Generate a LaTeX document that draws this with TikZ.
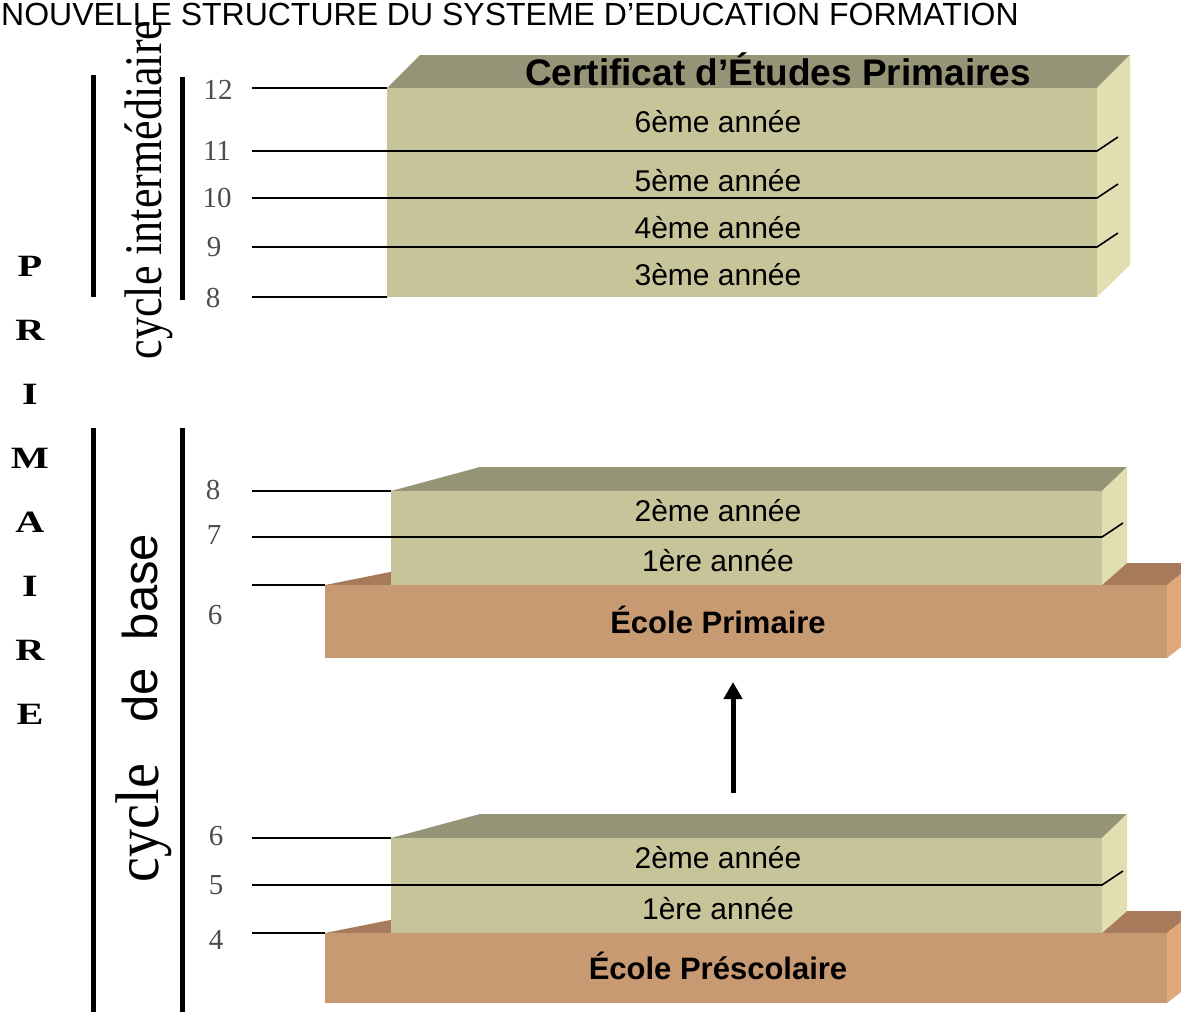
\documentclass[tikz,border=0pt]{standalone}
\usepackage{fontspec}
\setmainfont{Liberation Serif}
\setsansfont{Liberation Sans}
\usetikzlibrary{arrows.meta}

\definecolor{khaki}{HTML}{C8C49A}
\definecolor{khakitop}{HTML}{969476}
\definecolor{khakiside}{HTML}{E1DEB2}
\definecolor{clay}{HTML}{C89A72}
\definecolor{claytop}{HTML}{A87A5C}
\definecolor{clayside}{HTML}{E0A878}

\begin{document}
\begin{tikzpicture}[x=1pt,y=-1pt,
    level/.style={draw=black,line width=1.6pt},
    bar/.style={draw=black,line width=5pt},
    year/.style={font=\sffamily\fontsize{30}{30}\selectfont,text height=21pt,text depth=0pt,inner sep=0pt},
    school/.style={font=\sffamily\bfseries\fontsize{31}{31}\selectfont,text height=22pt,text depth=0pt,inner sep=0pt},
    grade/.style={font=\fontsize{29}{29}\selectfont,text=black!70,text height=19.6pt,text depth=0pt,inner sep=0pt},
    letter/.style={font=\bfseries\fontsize{31}{31}\selectfont,xscale=1.3,text height=20.5pt,text depth=0pt,inner sep=0pt},
    vert/.style={rotate=90,anchor=base,inner sep=0pt}]
\useasboundingbox (0,0) rectangle (1181,1012);
\clip (0,0) rectangle (1181,1012);

% title along the top edge
\node[anchor=base west,inner sep=0pt,font=\sffamily\fontsize{32}{32}\selectfont] (title) at (1,25)
    {NOUVELLE STRUCTURE DU SYSTEME D'EDUCATION FORMATION};

% upper block
\fill[khakitop] (387,88) -- (420,55) -- (1130,55) -- (1097,88) -- cycle;
\fill[khaki] (387,88) rectangle (1097,297);
\fill[khakiside] (1097,88) -- (1130,55) -- (1130,265) -- (1097,297) -- cycle;

% the two lower blocks: clay base, khaki on top
\foreach \top/\mid/\bot in {491/585/658, 838/933/1003} {
    \fill[claytop] (325,\mid) -- (435,\mid-22) -- (1195,\mid-22) -- (1167,\mid) -- cycle;
    \fill[clay] (325,\mid) rectangle (1167,\bot);
    \fill[clayside] (1167,\mid) -- (1195,\mid-22) -- (1195,\bot-22) -- (1167,\bot) -- cycle;
    \fill[khakitop] (391,\top) -- (480,\top-24) -- (1127,\top-24) -- (1102,\top) -- cycle;
    \fill[khaki] (391,\top) rectangle (1102,\mid);
    \fill[khakiside] (1102,\top) -- (1127,\top-24) -- (1127,\mid-22) -- (1102,\mid) -- cycle;
}

% levels
\foreach \g/\y/\e in {a12/88/387, a8/297/387, b8/491/391, b6/585/325, c6/838/391, c4/933/325} {
    \coordinate (\g-l) at (252,\y);
    \coordinate (\g-r) at (\e,\y);
    \draw[level] (\g-l) -- (\g-r);
}
\foreach \g/\y/\e in {a11/151/1097, a10/198/1097, a9/247/1097, b7/537/1102, c5/885/1102} {
    \coordinate (\g-l) at (252,\y);
    \coordinate (\g-r) at (\e,\y);
    \draw[level] (\g-l) -- (\g-r) -- ++(21,-14);
}

% ages
\foreach \n/\lab/\x/\y in {g12/12/218/90, g11/11/217/151, g10/10/217/198, g9/9/214/247, g8/8/213/298,
                            h8/8/213/490, h7/7/214/535, h6/6/215/615,
                            k6/6/216/836, k5/5/216/885, k4/4/216/940}
    \node[grade] (\n) at (\x,\y) {\lab};

% block texts
\node[font=\sffamily\bfseries\fontsize{37}{37}\selectfont,text height=26.5pt,text depth=0pt,inner sep=0pt]
    (cep) at (778,72) {Certificat d’Études Primaires};
\node[year] (an6) at (718,122) {6ème année};
\node[year] (an5) at (718,181) {5ème année};
\node[year] (an4) at (718,228) {4ème année};
\node[year] (an3) at (718,275) {3ème année};
\node[year] (ep2) at (718,511) {2ème année};
\node[year] (ep1) at (718,561) {1ère année};
\node[school] (ep) at (718,622) {École Primaire};
\node[year] (pre2) at (718,858) {2ème année};
\node[year] (pre1) at (718,909) {1ère année};
\node[school] (pre) at (718,968) {École Préscolaire};

% arrow from prescolaire up to primaire
\coordinate (up0) at (733,793);
\coordinate (up1) at (733,682);
\draw[line width=5pt,-{Triangle[length=17pt,width=18pt]}] (up0) -- (up1);

% brackets
\coordinate (b1a) at (93,75);   \coordinate (b1b) at (93,297);
\coordinate (b2a) at (182,77);  \coordinate (b2b) at (182,300);
\coordinate (b3a) at (93,428);  \coordinate (b3b) at (93,1015);
\coordinate (b4a) at (182,428); \coordinate (b4b) at (182,1015);
\draw[bar] (b1a) -- (b1b);
\draw[bar] (b2a) -- (b2b);
\draw[bar] (b3a) -- (b3b);
\draw[bar] (b4a) -- (b4b);

% cycle names
\node[vert,font=\fontsize{44}{44}\selectfont] (cint) at (161,190) {\scalebox{1}[1.2]{cycle intermédiaire}};
\node[vert,font=\fontsize{56}{56}\selectfont] (cb1) at (158,823) {\scalebox{1}[1.1]{cycle}};
\node[vert,font=\sffamily\fontsize{49}{49}\selectfont] (cb2) at (157,695) {de};
\node[vert,font=\sffamily\fontsize{49}{49}\selectfont] (cb3) at (157,587) {base};

% PRIMAIRE
\foreach \ch [count=\i] in {P,R,I,M,A,I,R,E}
    \node[letter] (p\i) at (30,{266+64*(\i-1)}) {\ch};
\end{tikzpicture}
\end{document}
